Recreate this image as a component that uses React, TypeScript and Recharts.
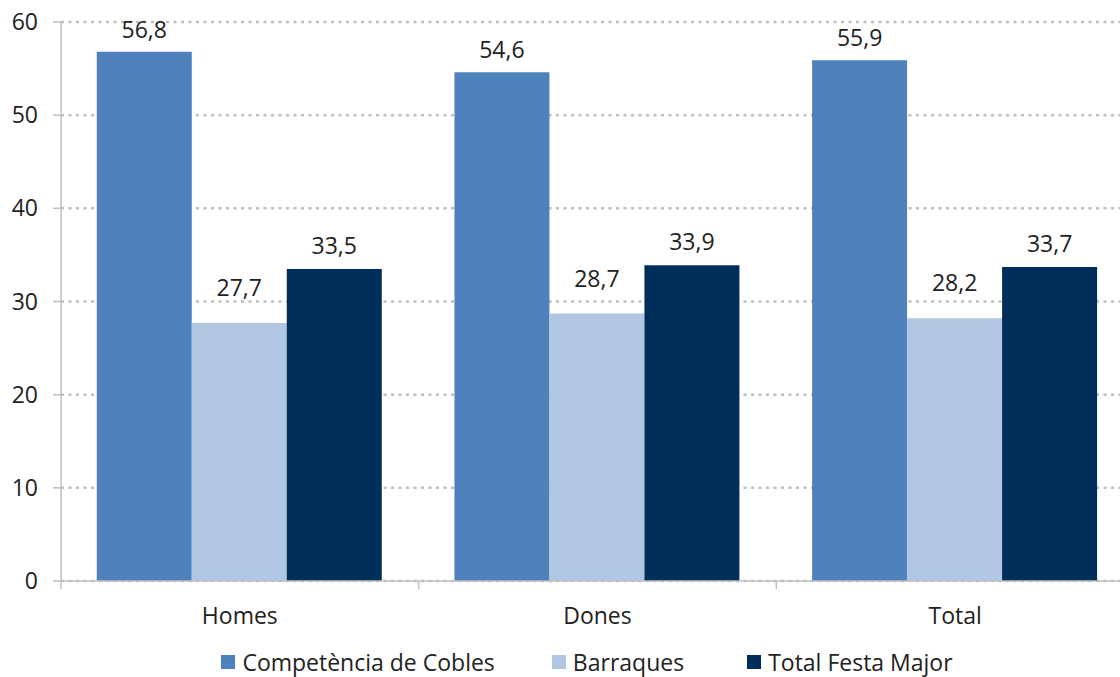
import { BarChart, Bar, XAxis, YAxis, CartesianGrid, Legend, LabelList } from "recharts";

const categories = ["Homes", "Dones", "Total"];
const competencia = [56.8, 54.6, 55.9];
const barraques = [27.7, 28.7, 28.2];
const totalFesta = [33.5, 33.9, 33.7];
const yTicks = [0, 10, 20, 30, 40, 50, 60];

const series = [
  { key: "competencia", name: "Competència de Cobles", color: "#4F81BD", labelOffset: 14, gapAfter: 57 },
  { key: "barraques", name: "Barraques", color: "#B1C6E3", labelOffset: 27, gapAfter: 63 },
  { key: "totalFesta", name: "Total Festa Major", color: "#002E5A", labelOffset: 15, gapAfter: 0 },
];

const data = categories.map((name, i) => ({
  name,
  competencia: competencia[i],
  barraques: barraques[i],
  totalFesta: totalFesta[i],
}));

const FONT = "'Open Sans', sans-serif";
const FS = 23;
const AXIS = "#BFBFBF";
const TEXT = "#222";

const fmt = (v: any) => Number(v).toFixed(1).replace(".", ",");

const CHART_W = 1140;
const LEFT = 61;
const RIGHT = 6;
const BAND = (CHART_W - LEFT - RIGHT) / categories.length;

function CatTick(props: any) {
  const { x, y, payload, index } = props;
  const top = y - 8;
  return (
    <g>
      {index === 0 && (
        <line x1={x - BAND / 2} x2={x - BAND / 2} y1={top} y2={top + 8} stroke={AXIS} strokeWidth={1.5} />
      )}
      <line x1={x + BAND / 2} x2={x + BAND / 2} y1={top} y2={top + 8} stroke={AXIS} strokeWidth={1.5} />
      <text x={x} y={top + 43} textAnchor="middle" fontSize={FS} fill={TEXT} fontFamily={FONT}>
        {payload.value}
      </text>
    </g>
  );
}

function LegendContent() {
  return (
    <div style={{ display: "flex", justifyContent: "center", fontFamily: FONT, fontSize: FS, lineHeight: "24px", color: TEXT, paddingLeft: 40, paddingTop: 13 }}>
      {series.map((s) => (
        <div key={s.key} style={{ display: "flex", alignItems: "center", marginRight: s.gapAfter }}>
          <span style={{ display: "inline-block", width: 14, height: 14, background: s.color, marginRight: 7 }} />
          <span>{s.name}</span>
        </div>
      ))}
    </div>
  );
}

export default function App() {
  return (
    <div style={{ width: 1120, height: 677, overflow: "hidden", background: "#fff" }}>
      <style>{"html,body{margin:0;padding:0;overflow:hidden;}"}</style>
      <BarChart
        width={CHART_W}
        height={677}
        data={data}
        margin={{ top: 22, right: RIGHT, left: 0, bottom: 0 }}
        barCategoryGap="10%"
        barGap={0}
      >
        <CartesianGrid
          vertical={false}
          stroke={AXIS}
          strokeWidth={2.5}
          strokeDasharray="3 4.5"
        />
        <XAxis
          dataKey="name"
          axisLine={{ stroke: AXIS, strokeWidth: 1.5 }}
          tickLine={false}
          tick={<CatTick />}
          height={56}
          interval={0}
        />
        <YAxis
          domain={[0, 60]}
          ticks={yTicks}
          width={LEFT}
          axisLine={{ stroke: AXIS, strokeWidth: 1.5 }}
          tickLine={{ stroke: AXIS, strokeWidth: 1.5 }}
          tickSize={8}
          tickMargin={15}
          tick={{ fontSize: FS, fill: TEXT, fontFamily: FONT }}
        />
        <Legend verticalAlign="bottom" height={40} content={<LegendContent />} />
        {series.map((s) => (
          <Bar key={s.key} dataKey={s.key} name={s.name} fill={s.color} isAnimationActive={false}>
            <LabelList dataKey={s.key} position="top" offset={s.labelOffset} formatter={fmt} fontSize={FS} fill={TEXT} fontFamily={FONT} />
          </Bar>
        ))}
      </BarChart>
    </div>
  );
}
